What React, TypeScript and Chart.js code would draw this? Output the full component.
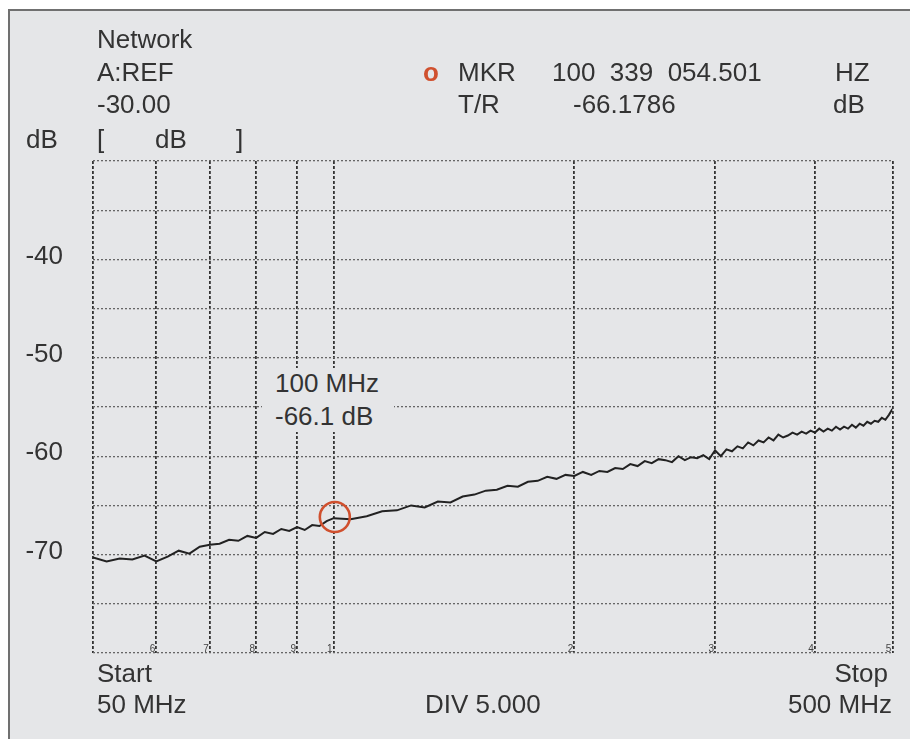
import React, { useEffect, useRef } from "react";
import { Chart, registerables } from "chart.js";

Chart.register(...registerables);

// ---- data ----
const freqMHz = [
  50, 52, 54, 56, 58, 60, 62, 64, 66, 68, 70, 72, 74, 76, 78, 80, 82, 84, 86, 88, 90, 92, 94, 96, 98, 100,
  105, 110, 115, 120, 125, 130, 135, 140, 145, 150, 155, 160, 165, 170, 175, 180, 185, 190, 195, 200,
  205, 210, 215, 220, 225, 230, 235, 240, 245, 250, 255, 260, 265, 270, 275, 280, 285, 290, 295, 300,
  305, 310, 315, 320, 325, 330, 335, 340, 345, 350, 355, 360, 365, 370, 375, 380, 385, 390, 395, 400,
  405, 410, 415, 420, 425, 430, 435, 440, 445, 450, 455, 460, 465, 470, 475, 480, 485, 490, 495, 500,
];
const traceDb = [
  -70.3, -70.7, -70.4, -70.5, -70.1, -70.7, -70.2, -69.6, -69.9, -69.2, -69.0, -68.9, -68.5, -68.6, -68.1, -68.3, -67.7, -67.9, -67.4, -67.6, -67.2, -67.5, -67.0, -67.1, -66.6, -66.3,
  -66.4, -66.1, -65.6, -65.5, -65.0, -65.2, -64.6, -64.7, -64.1, -63.9, -63.5, -63.4, -63.0, -63.1, -62.6, -62.5, -62.1, -62.3, -61.9, -62.0,
  -61.6, -61.9, -61.5, -61.6, -61.2, -61.3, -60.8, -61.0, -60.5, -60.7, -60.3, -60.4, -60.6, -60.0, -60.4, -60.1, -60.2, -59.9, -60.3, -59.4,
  -60.0, -59.3, -59.5, -59.0, -59.2, -58.6, -58.9, -58.4, -58.6, -58.1, -58.4, -57.8, -58.1, -57.9, -57.6, -57.8, -57.5, -57.7, -57.4, -57.6,
  -57.2, -57.5, -57.2, -57.4, -57.0, -57.3, -57.0, -57.2, -56.8, -57.1, -56.7, -56.9, -56.5, -56.7, -56.4, -56.5, -56.1, -56.3, -55.8, -55.2,
];
const markerFreqMHz = [100.339054501];
const markerDb = [-66.1786];

const xGridValues = [50, 60, 70, 80, 90, 100, 200, 300, 400, 500];
const xTickLabels = ["", "6", "7", "8", "9", "1", "2", "3", "4", "5"];
const yGridValues = [-30, -35, -40, -45, -50, -55, -60, -65, -70, -75, -80];
const yTickLabels = ["", "", "-40", "", "-50", "", "-60", "", "-70", "", ""];

const FONT = "'Liberation Sans', Arial, Helvetica, sans-serif";
const PANEL = "#e5e6e8";
const TEXT = "#333";

const freqDigitsPlugin = {
  id: "freqDigits",
  afterDraw(chart: any) {
    const { ctx, chartArea } = chart;
    const x = chart.scales.x;
    ctx.save();
    ctx.font = `10px ${FONT}`;
    ctx.fillStyle = "#444";
    ctx.textAlign = "right";
    ctx.textBaseline = "alphabetic";
    xGridValues.forEach((v, i) => {
      if (!xTickLabels[i]) return;
      ctx.fillText(xTickLabels[i], x.getPixelForValue(v) - 1, chartArea.bottom - 1);
    });
    ctx.restore();
  },
};

function T(props: { x: number; b: number; right?: boolean; color?: string; bold?: boolean; children: React.ReactNode }) {
  const { x, b, right, color, bold, children } = props;
  return (
    <div
      style={{
        position: "absolute",
        left: right ? undefined : x,
        right: right ? 910 - x : undefined,
        top: b - 22,
        fontSize: 26,
        lineHeight: "26px",
        whiteSpace: "pre",
        color: color || TEXT,
        fontWeight: bold ? 700 : 400,
      }}
    >
      {children}
    </div>
  );
}

export default function App() {
  const ref = useRef<HTMLCanvasElement | null>(null);

  useEffect(() => {
    if (!ref.current) return;
    const chart = new Chart(ref.current, {
      type: "line",
      data: {
        datasets: [
          {
            label: "marker",
            data: markerFreqMHz.map((f, i) => ({ x: f, y: markerDb[i] })),
            showLine: false,
            pointRadius: 15,
            pointBorderWidth: 2.6,
            pointBorderColor: "#d0502e",
            pointBackgroundColor: "rgba(0,0,0,0)",
            order: 0,
          },
          {
            label: "T/R",
            data: freqMHz.map((f, i) => ({ x: f, y: traceDb[i] })),
            borderColor: "#222",
            borderWidth: 2,
            pointRadius: 0,
            tension: 0,
            order: 1,
          },
        ],
      },
      options: {
        responsive: false,
        animation: false,
        events: [],
        layout: { padding: { left: 0, top: 161, right: 15, bottom: 0 } },
        plugins: { legend: { display: false }, tooltip: { enabled: false } },
        scales: {
          x: {
            type: "logarithmic",
            min: 50,
            max: 500,
            position: "bottom",
            afterBuildTicks: (s: any) => {
              s.ticks = xGridValues.map((v) => ({ value: v }));
            },
            afterFit: (s: any) => {
              s.height = 86;
            },
            grid: { color: "#333", lineWidth: 1.8, drawTicks: false },
            border: { display: false, dash: [3, 2] },
            ticks: { display: false },
          },
          y: {
            type: "linear",
            min: -80,
            max: -30,
            afterBuildTicks: (s: any) => {
              s.ticks = yGridValues.map((v) => ({ value: v }));
            },
            afterFit: (s: any) => {
              s.width = 93;
            },
            grid: { color: "#666", lineWidth: 1.3, drawTicks: false },
            border: { display: false, dash: [2, 2] },
            ticks: {
              padding: 30,
              labelOffset: -3,
              font: { family: FONT, size: 26 },
              color: TEXT,
              callback: (v: any) => {
                const i = yGridValues.indexOf(Number(v));
                return i >= 0 ? yTickLabels[i] : "";
              },
            },
          },
        },
      },
      plugins: [freqDigitsPlugin],
    } as any);
    return () => chart.destroy();
  }, []);

  return (
    <div
      style={{
        position: "fixed",
        left: 0,
        top: 0,
        width: 910,
        height: 739,
        overflow: "hidden",
        background: "#fff",
        fontFamily: FONT,
      }}
    >
      <div
        style={{
          position: "absolute",
          left: 8,
          top: 9,
          width: 960,
          height: 800,
          borderLeft: "2px solid #707070",
          borderTop: "2px solid #707070",
          background: PANEL,
        }}
      />
      <canvas ref={ref} width={910} height={739} style={{ position: "absolute", left: 0, top: 0 }} />

      <T x={97} b={48}>Network</T>
      <T x={97} b={81}>A:REF</T>
      <T x={97} b={113}>-30.00</T>
      <T x={26} b={148}>dB</T>
      <T x={97} b={148}>[</T>
      <T x={155} b={148}>dB</T>
      <T x={236} b={148}>]</T>

      <T x={423} b={81} color="#d0502e" bold>o</T>
      <T x={458} b={81}>MKR</T>
      <T x={552} b={81}>100  339  054.501</T>
      <T x={835} b={81}>HZ</T>
      <T x={458} b={113}>T/R</T>
      <T x={573} b={113}>-66.1786</T>
      <T x={833} b={113}>dB</T>

      <div style={{ position: "absolute", left: 262, top: 368, width: 132, height: 64, background: PANEL }} />
      <T x={275} b={392}>100 MHz</T>
      <T x={275} b={425}>-66.1 dB</T>

      <T x={97} b={682}>Start</T>
      <T x={97} b={713}>50 MHz</T>
      <T x={425} b={713}>DIV 5.000</T>
      <T x={888} b={682} right>Stop</T>
      <T x={892} b={713} right>500 MHz</T>
    </div>
  );
}
